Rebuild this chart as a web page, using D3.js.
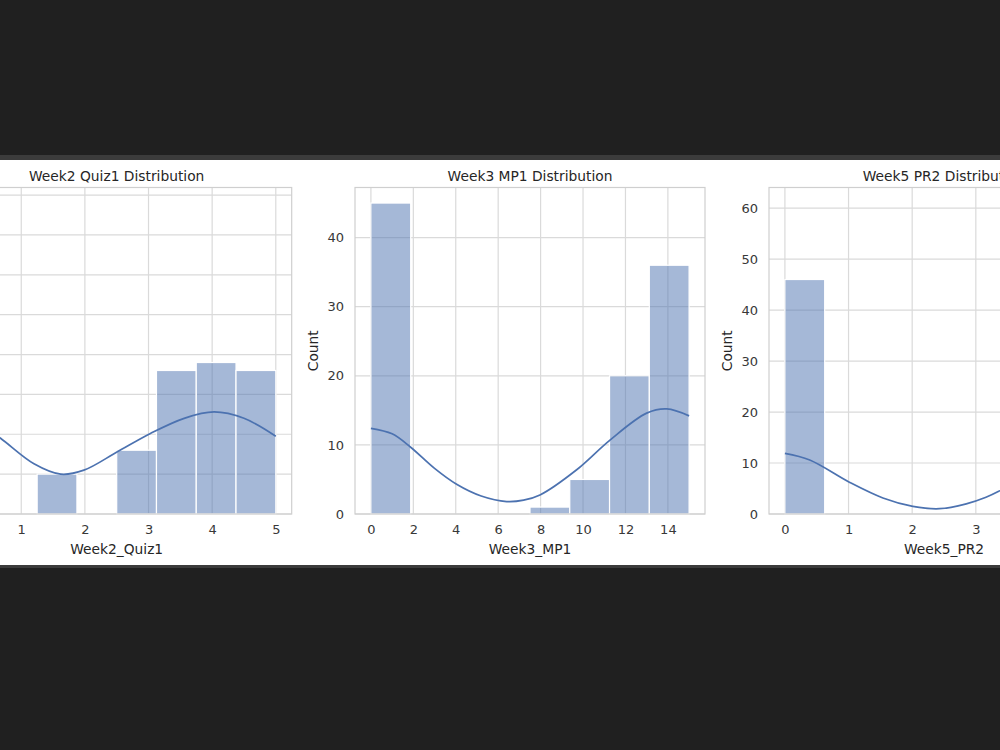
<!DOCTYPE html>
<html>
<head>
<meta charset="utf-8">
<script src="https://cdn.jsdelivr.net/npm/d3@7"></script>
<style>
  body { margin: 0; background: #202020; }
  svg { display: block; font-family: "DejaVu Sans", sans-serif; }
  .tick text { fill: #383838; }
</style>
</head>
<body>
<div id="chart"></div>
<script>
// bin edges (8 bins each) and counts per bin
var quizEdges = [0, 0.625, 1.25, 1.875, 2.5, 3.125, 3.75, 4.375, 5];
var quizCounts = [39, 0, 5, 0, 8, 18, 19, 18];
var mpEdges = [0, 1.875, 3.75, 5.625, 7.5, 9.375, 11.25, 13.125, 15];
var mpCounts = [45, 0, 0, 0, 1, 5, 20, 36];
var prEdges = [0, 0.625, 1.25, 1.875, 2.5, 3.125, 3.75, 4.375, 5];
var prCounts = [46, 0, 0, 0, 0, 0, 0, 61];

// kde curves: [value, count]
var quizKde = [[0, 12.7], [0.3, 11.6], [0.675, 9.5], [1.2, 6.3], [1.62, 5.0], [1.985, 5.5], [2.51, 7.8],
  [3.03, 10.1], [3.56, 12.0], [4.03, 12.8], [4.5, 12.0], [5, 9.75]];
var mpKde = [[0, 12.4], [1.0, 11.6], [1.86, 9.7], [3.0, 6.6], [4.04, 4.3], [5.2, 2.6], [6.4, 1.8], [7.2, 2.0],
  [7.97, 2.75], [9.7, 6.4], [11.27, 10.7], [13, 14.6], [13.95, 15.2], [15, 14.2]];
var prKde = [[0, 11.9], [0.39, 10.6], [1.02, 6.2], [1.54, 3.15], [2.01, 1.5], [2.43, 1.04], [2.85, 2.0],
  [3.16, 3.3], [3.36, 4.45], [3.7, 7.0], [4.1, 10.8], [4.55, 14.2], [5, 15.6]];

var titles = ["Week2 Quiz1 Distribution", "Week3 MP1 Distribution", "Week5 PR2 Distribution"];
var xLabels = ["Week2_Quiz1", "Week3_MP1", "Week5_PR2"];
var quizTicks = [0, 1, 2, 3, 4, 5];
var mpTicks = [0, 2, 4, 6, 8, 10, 12, 14];
var prTicks = [0, 1, 2, 3, 4, 5];

var panels = [
  {edges: quizEdges, counts: quizCounts, kde: quizKde, xt: quizTicks, yStep: 5, left: -58.3},
  {edges: mpEdges, counts: mpCounts, kde: mpKde, xt: mpTicks, yStep: 10, left: 355},
  {edges: prEdges, counts: prCounts, kde: prKde, xt: prTicks, yStep: 10, left: 769}
];

var svg = d3.select("#chart").append("svg")
  .attr("width", 1000)
  .attr("height", 750);

svg.append("rect").attr("width", 1000).attr("height", 750).attr("fill", "#202020");
svg.append("rect").attr("y", 155).attr("width", 1000).attr("height", 413).attr("fill", "#3b3b3b");
svg.append("rect").attr("y", 160).attr("width", 1000).attr("height", 405).attr("fill", "#ffffff");

var plotTop = 187.5, plotBottom = 514, plotW = 350;
var blue = "#4c72b0";

panels.forEach(function(p, i) {
  var lo = p.edges[0], hi = p.edges[p.edges.length - 1];
  var pad = (hi - lo) * 0.05;
  var x = d3.scaleLinear().domain([lo - pad, hi + pad]).range([p.left, p.left + plotW]);
  var y = d3.scaleLinear().domain([0, d3.max(p.counts) * 1.05]).range([plotBottom, plotTop]);

  var g = svg.append("g");

  // grid
  var yTicks = d3.range(0, y.domain()[1], p.yStep);
  g.selectAll(".hg").data(yTicks).enter().append("line")
    .attr("x1", p.left).attr("x2", p.left + plotW)
    .attr("y1", d => y(d)).attr("y2", d => y(d))
    .attr("stroke", "#dadada").attr("stroke-width", 1.2);
  g.selectAll(".vg").data(p.xt).enter().append("line")
    .attr("x1", d => x(d)).attr("x2", d => x(d))
    .attr("y1", plotTop).attr("y2", plotBottom)
    .attr("stroke", "#dadada").attr("stroke-width", 1.2);

  // bars
  var bins = p.counts.map(function(c, k) { return {x0: p.edges[k], x1: p.edges[k + 1], c: c}; })
    .filter(d => d.c > 0);
  g.selectAll(".bar").data(bins).enter().append("rect")
    .attr("x", d => x(d.x0))
    .attr("width", d => x(d.x1) - x(d.x0))
    .attr("y", d => y(d.c))
    .attr("height", d => y(0) - y(d.c))
    .attr("fill", blue).attr("fill-opacity", 0.5)
    .attr("stroke", "#fff").attr("stroke-width", 1.2);

  // kde
  var line = d3.line().x(d => x(d[0])).y(d => y(d[1])).curve(d3.curveCatmullRom.alpha(0.5));
  g.append("path").datum(p.kde)
    .attr("d", line)
    .attr("fill", "none").attr("stroke", blue).attr("stroke-width", 1.7);

  // frame
  g.append("rect")
    .attr("x", p.left).attr("y", plotTop)
    .attr("width", plotW).attr("height", plotBottom - plotTop)
    .attr("fill", "none").attr("stroke", "#cfcfcf").attr("stroke-width", 1.2);

  // axes
  var xAxis = d3.axisBottom(x).tickValues(p.xt).tickSize(0).tickPadding(11).tickFormat(d3.format("d"));
  g.append("g").attr("transform", `translate(0, ${plotBottom})`).call(xAxis)
    .call(a => a.select(".domain").remove())
    .selectAll("text").attr("font-size", "13px").attr("font-family", "DejaVu Sans");
  var yAxis = d3.axisLeft(y).tickValues(yTicks).tickSize(0).tickPadding(11);
  g.append("g").attr("transform", `translate(${p.left}, 0)`).call(yAxis)
    .call(a => a.select(".domain").remove())
    .selectAll("text").attr("font-size", "13px").attr("font-family", "DejaVu Sans");

  // labels
  g.append("text")
    .attr("x", p.left + plotW / 2).attr("y", 181)
    .attr("text-anchor", "middle").attr("font-size", "13.8px").attr("fill", "#262626")
    .text(titles[i]);
  g.append("text")
    .attr("x", p.left + plotW / 2).attr("y", 554)
    .attr("text-anchor", "middle").attr("font-size", "13.8px").attr("fill", "#262626")
    .text(xLabels[i]);
  g.append("text")
    .attr("transform", `translate(${p.left - 37}, ${(plotTop + plotBottom) / 2}) rotate(-90)`)
    .attr("text-anchor", "middle").attr("font-size", "13.8px").attr("fill", "#262626")
    .text("Count");
});
</script>
</body>
</html>
